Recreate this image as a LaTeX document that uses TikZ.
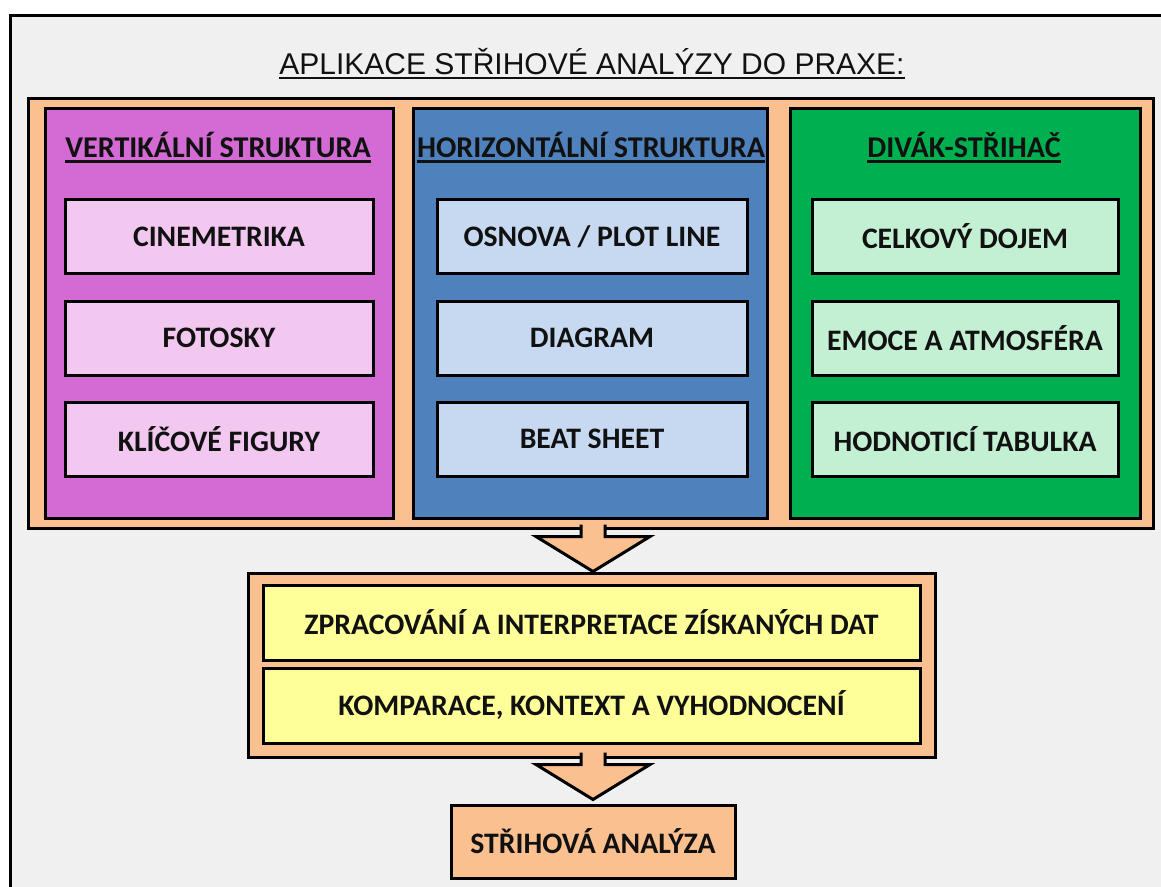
\documentclass[tikz,border=0pt]{standalone}
\usepackage{fontspec}
\setmainfont{Carlito}
\newfontfamily\titlefont{Liberation Sans}

\definecolor{ink}{HTML}{111111}
\definecolor{bggray}{HTML}{F0F0F0}
\definecolor{peach}{HTML}{FAC090}
\definecolor{orchid}{HTML}{D46BD4}
\definecolor{orchidlight}{HTML}{F2C8F0}
\definecolor{steel}{HTML}{4F81BD}
\definecolor{steellight}{HTML}{C6D9F1}
\definecolor{leaf}{HTML}{00B050}
\definecolor{leaflight}{HTML}{C3F0D3}
\definecolor{lemon}{HTML}{FFFF99}

\newdimen\px \px=0.75pt

\tikzset{
  frameline/.style={line width=3\px},
  panel/.style={draw=black, line width=3\px, inner sep=0pt},
  itembox/.style={draw=black, line width=3\px, inner sep=0pt, minimum height=74\px,
    text=ink, font=\bfseries\fontsize{22.3}{26}\selectfont},
  header/.style={inner sep=0pt, anchor=base, text=ink, font=\bfseries\fontsize{22.6}{26}\selectfont},
  ulineheader/.style={line width=2.5\px, draw=ink},
  pics/downarrow/.style={code={
    \fill[peach] (-12,0) -- (-12,12) -- (-57,12) -- (0,47) -- (57,12) -- (12,12) -- (12,0) -- cycle;
    \draw[line width=3\px, line join=miter, miter limit=10]
      (-12,0) -- (-12,12) -- (-57,12) -- (0,47) -- (57,12) -- (12,12) -- (12,0);
  }}
}

\begin{document}
\begin{tikzpicture}[x=0.75pt,y=-0.75pt]
\clip (0,0) rectangle (1161,886);
\useasboundingbox (0,0) rectangle (1161,886);
\fill[white] (0,0) rectangle (1161,886);

% page frame (open to the right and bottom)
\fill[bggray] (10,15) rectangle (1180,900);
\draw[frameline] (10,900) -- (10,15) -- (1180,15);

% title
\node[inner sep=0pt, anchor=base, text=ink, font=\titlefont\fontsize{22.5}{26}\selectfont]
  (title) at (592,74) {APLIKACE STŘIHOVÉ ANALÝZY DO PRAXE:};
\draw[line width=2\px, draw=ink] ([yshift=-3.5\px]title.base west) -- ([yshift=-3.5\px]title.base east);

% upper container with three panels
\node[panel, fill=peach, minimum width=1125\px, minimum height=430\px] (upper) at (590.5,313) {};
\node[panel, fill=orchid, minimum width=348\px, minimum height=410\px] (pv) at (219,313) {};
\node[panel, fill=steel, minimum width=354\px, minimum height=410\px] (ph) at (590,313) {};
\node[panel, fill=leaf, minimum width=350\px, minimum height=410\px] (pd) at (965,313) {};

% panel headings
\node[header] (hv) at (218,157) {VERTIKÁLNÍ STRUKTURA};
\node[header] (hh) at (591,157) {HORIZONTÁLNÍ STRUKTURA};
\node[header] (hd) at (964,157) {DIVÁK-STŘIHAČ};
\foreach \h in {hv,hh,hd}
  \draw[ulineheader] ([yshift=-4.5\px]\h.base west) -- ([yshift=-4.5\px]\h.base east);

% vertical structure
\node[itembox, fill=orchidlight, minimum width=308\px] (v1) at (219,236.5) {CINEMETRIKA};
\node[itembox, fill=orchidlight, minimum width=308\px] (v2) at (219,338) {FOTOSKY};
\node[itembox, fill=orchidlight, minimum width=308\px] (v3) at (219,439) {KLÍČOVÉ FIGURY};

% horizontal structure
\node[itembox, fill=steellight, minimum width=310\px] (h1) at (592,236.5) {OSNOVA / PLOT LINE};
\node[itembox, fill=steellight, minimum width=310\px] (h2) at (592,338) {DIAGRAM};
\node[itembox, fill=steellight, minimum width=310\px] (h3) at (592,439) {BEAT SHEET};

% viewer-editor
\node[itembox, fill=leaflight, minimum width=306\px] (d1) at (965,236.5) {CELKOVÝ DOJEM};
\node[itembox, fill=leaflight, minimum width=306\px] (d2) at (965,338) {EMOCE A ATMOSFÉRA};
\node[itembox, fill=leaflight, minimum width=306\px] (d3) at (965,439) {HODNOTICÍ TABULKA};

% middle container
\node[panel, fill=peach, minimum width=687\px, minimum height=184\px] (middle) at (591.5,665) {};
\node[itembox, fill=lemon, minimum width=657\px, minimum height=75\px] (m1) at (591.5,622.5)
  {ZPRACOVÁNÍ A INTERPRETACE ZÍSKANÝCH DAT};
\node[itembox, fill=lemon, minimum width=657\px, minimum height=75\px] (m2) at (591.5,705.5)
  {KOMPARACE, KONTEXT A VYHODNOCENÍ};

% result
\node[itembox, fill=peach, minimum width=284\px, minimum height=73\px] (result) at (593,841.5)
  {STŘIHOVÁ ANALÝZA};

% block arrows between the stages
\pic at ([yshift=5\px]upper.south -| result.center) {downarrow};
\pic at ([yshift=6\px]middle.south -| result.center) {downarrow};
\end{tikzpicture}
\end{document}
